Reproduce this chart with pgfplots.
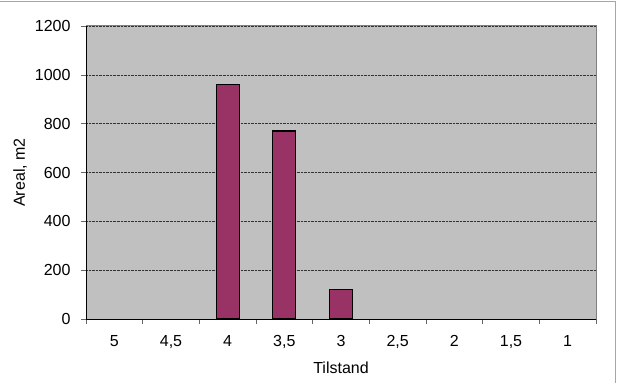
\documentclass[border=0pt]{standalone}
\usepackage{pgfplots}
\pgfplotsset{compat=1.18}
\usepackage{fontspec}
\setmainfont{Liberation Sans}
\definecolor{plotbg}{HTML}{C0C0C0}
\definecolor{barcol}{HTML}{993366}
\definecolor{framecol}{HTML}{A6A6A6}
\begin{document}
\begin{tikzpicture}
\useasboundingbox (0,0) rectangle (617bp,383bp);
\draw[framecol, line width=1pt] (0,381.5bp) -- (615.5bp,381.5bp) -- (615.5bp,0);
\begin{axis}[
  at={(86bp,64bp)}, anchor=south west,
  scale only axis, width=510bp, height=293bp,
  xmin=-0.5, xmax=8.5, ymin=0, ymax=1200,
  axis lines*=left,
  axis line style={-, black, line width=1pt},
  axis background/.style={fill=plotbg, draw=gray, line width=1pt},
  font=\fontsize{16bp}{19bp}\selectfont,
  /pgf/number format/assume math mode=true,
  /pgf/number format/1000 sep={},
  xtick={0,...,8},
  xticklabels={5,{4,5},4,{3,5},3,{2,5},2,{1,5},1},
  major x tick style={draw=none},
  minor xtick={-0.5,0.5,...,8.5},
  minor tick length=5bp,
  ytick={0,200,...,1200},
  major tick length=5bp,
  tick align=outside,
  tick style={black!60, line width=0.6pt},
  ymajorgrids,
  major grid style={black!80, densely dotted, line width=0.6pt},
  yticklabel style={xshift=-7bp},
  xticklabel style={yshift=-8bp},
  xlabel={Tilstand},
  ylabel={Areal, m2},
  xlabel style={yshift=-6bp},
  ylabel style={yshift=1bp},
]
\addplot[ybar, bar width=0.405, fill=barcol, draw=black, line width=1.2pt]
  coordinates {(2,960) (3,770) (4,120)};
\end{axis}
\end{tikzpicture}
\end{document}
